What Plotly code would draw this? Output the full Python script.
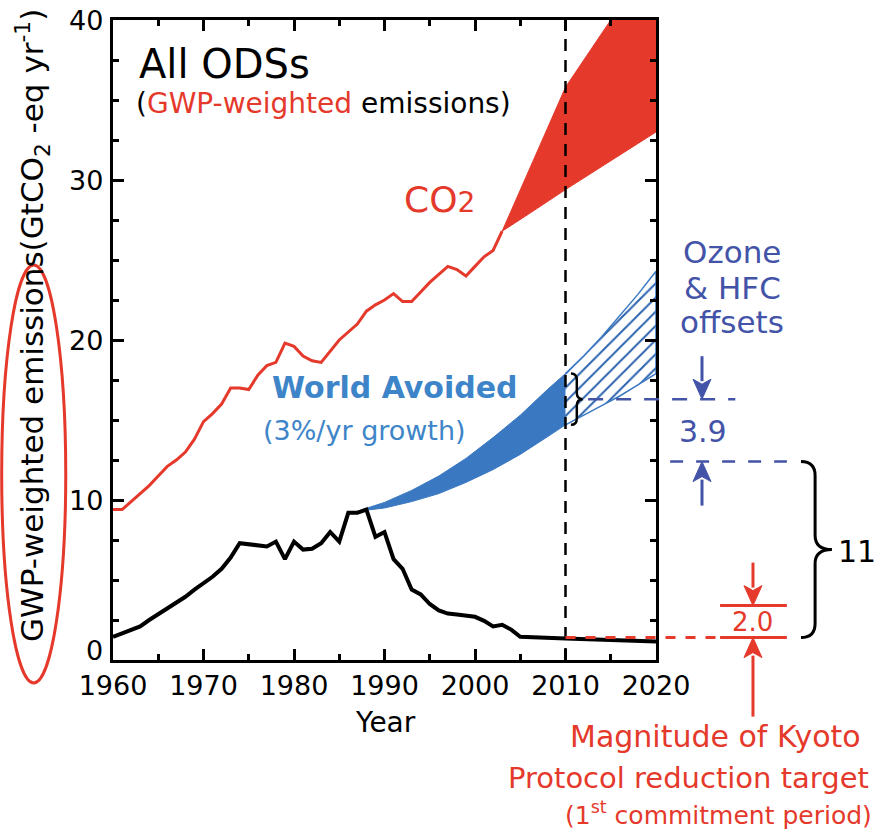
import plotly.graph_objects as go

# ---------------------------------------------------------------------------
# GWP-weighted emissions (GtCO2-eq per year)
# ---------------------------------------------------------------------------
ods_years = list(range(1960, 2011)) + [2015, 2020]
ods_values = [
    1.45, 1.65, 1.85, 2.1, 2.5, 2.85, 3.2, 3.6, 3.95, 4.4,      # 1960-1969
    4.8, 5.2, 5.7, 6.4, 7.3, 7.25, 7.2, 7.1, 7.4, 6.3,          # 1970-1979
    7.4, 6.9, 6.95, 7.3, 8.0, 7.4, 9.2, 9.2, 9.4, 7.7,          # 1980-1989
    8.0, 6.3, 5.7, 4.4, 4.1, 3.5, 3.1, 2.9, 2.85, 2.8,          # 1990-1999
    2.7, 2.45, 2.1, 2.2, 1.9, 1.45, 1.42, 1.4, 1.38, 1.36,      # 2000-2009
    1.35, 1.25, 1.15,                                           # 2010, 2015, 2020
]

co2_years = list(range(1960, 2004))
co2_values = [
    9.4, 9.4, 9.9, 10.4, 10.9, 11.5, 12.1, 12.5, 13.0, 13.8,    # 1960-1969
    14.9, 15.4, 16.0, 17.0, 17.0, 16.9, 17.8, 18.4, 18.6, 19.8, # 1970-1979
    19.6, 19.0, 18.7, 18.6, 19.3, 20.0, 20.5, 21.0, 21.8, 22.2, # 1980-1989
    22.5, 22.9, 22.4, 22.4, 23.0, 23.6, 24.1, 24.6, 24.4, 24.0, # 1990-1999
    24.6, 25.2, 25.6, 26.8,                                     # 2000-2003
]

# CO2 projection range
co2_proj_years = [2003, 2006, 2010, 2015, 2020]
co2_proj_high = [26.8, 30.7, 35.8, 40.0, 43.6]
co2_proj_low = [26.8, 27.9, 29.4, 31.2, 33.0]

# "World avoided" ODS emissions (3%/yr growth), before 2010
avoided_years = [1987, 1990, 1993, 1996, 1999, 2002, 2005, 2008, 2010]
avoided_high = [9.3, 9.85, 10.6, 11.5, 12.6, 13.9, 15.3, 16.9, 17.9]
avoided_low = [9.3, 9.5, 9.9, 10.4, 11.1, 11.9, 12.85, 13.95, 14.7]

# Ozone & HFC offsets after 2010
offset_years = [2010, 2012, 2014, 2016, 2018, 2020]
offset_high = [17.9, 19.0, 20.2, 21.5, 22.85, 24.3]
offset_low = [14.7, 15.3, 15.9, 16.5, 17.2, 17.9]

# Quantities annotated on the right-hand side
kyoto_base = 1.4          # projected ODS emissions level
kyoto_target = 2.0        # Kyoto Protocol reduction target
montreal_gap = 11.0       # avoided emissions relative to ODS level
hfc_offsets = 3.9         # ozone & HFC offsets

x_ticks = [1960, 1970, 1980, 1990, 2000, 2010, 2020]
y_ticks = [0, 10, 20, 30, 40]

X_RANGE = [1960, 2020]
Y_RANGE = [0, 40]

RED = "#e4392b"
BLUE_FILL = "#3a78c2"
BLUE_HATCH = "#2a62ad"
BLUE_TEXT = "#3d85c8"
INDIGO = "#4353a8"
FONT = "DejaVu Sans"

PLOT_W, PLOT_H = 543, 640   # plotting area in pixels


def xp(year):
    """Year -> paper fraction along the x axis."""
    return (year - X_RANGE[0]) / (X_RANGE[1] - X_RANGE[0])


def yp(value):
    """Emission value -> paper fraction along the y axis."""
    return (value - Y_RANGE[0]) / (Y_RANGE[1] - Y_RANGE[0])


fig = go.Figure()

# avoided emissions band (solid)
fig.add_trace(go.Scatter(
    x=avoided_years + avoided_years[::-1],
    y=avoided_high + avoided_low[::-1],
    fill="toself", fillcolor=BLUE_FILL, mode="lines",
    line=dict(color=BLUE_FILL, width=1), hoverinfo="skip",
))

# ozone & HFC offsets band (hatched)
fig.add_trace(go.Scatter(
    x=offset_years + offset_years[::-1],
    y=offset_high + offset_low[::-1],
    fill="toself", fillcolor="white", mode="lines",
    fillpattern=dict(shape="/", fgcolor=BLUE_HATCH, fgopacity=1,
                     bgcolor="white", size=10, solidity=0.2),
    line=dict(color=BLUE_FILL, width=1.5), hoverinfo="skip",
))

# CO2 projection band
fig.add_trace(go.Scatter(
    x=co2_proj_years + co2_proj_years[::-1],
    y=co2_proj_high + co2_proj_low[::-1],
    fill="toself", fillcolor=RED, mode="lines",
    line=dict(color=RED, width=1), hoverinfo="skip",
))

# CO2 emissions
fig.add_trace(go.Scatter(
    x=co2_years, y=co2_values, mode="lines",
    line=dict(color=RED, width=3), hoverinfo="skip",
))

# ODS emissions
fig.add_trace(go.Scatter(
    x=ods_years, y=ods_values, mode="lines",
    line=dict(color="black", width=4), hoverinfo="skip",
))

shapes = []

# 2010 marker
shapes.append(dict(type="line", xref="x", yref="y", x0=2010, x1=2010,
                   y0=Y_RANGE[0], y1=Y_RANGE[1],
                   line=dict(color="black", width=2.5, dash="12px,9px")))

# small brace across the avoided band at 2010
b_top, b_bot = avoided_high[-1], avoided_low[-1]
b_mid = (b_top + b_bot) / 2
shapes.append(dict(
    type="path", xref="x", yref="y",
    path=(f"M2010.6,{b_top} Q2011.25,{b_top} 2011.25,{b_top - 0.4} "
          f"L2011.25,{b_mid + 0.4} Q2011.25,{b_mid} 2011.9,{b_mid} "
          f"Q2011.25,{b_mid} 2011.25,{b_mid - 0.4} "
          f"L2011.25,{b_bot + 0.4} Q2011.25,{b_bot} 2010.6,{b_bot}"),
    line=dict(color="black", width=2.5)))

# offset levels (dashed blue)
lvl_low = kyoto_base + montreal_gap
lvl_high = lvl_low + hfc_offsets
shapes.append(dict(type="line", xref="paper", yref="paper",
                   x0=0.875, x1=1.146, y0=yp(lvl_high), y1=yp(lvl_high),
                   line=dict(color=INDIGO, width=2.5, dash="15px,13px")))
shapes.append(dict(type="line", xref="paper", yref="paper",
                   x0=1.026, x1=1.241, y0=yp(lvl_low), y1=yp(lvl_low),
                   line=dict(color=INDIGO, width=2.5, dash="13px,13px")))

# Kyoto level (dashed red) and target bars
shapes.append(dict(type="line", xref="paper", yref="paper",
                   x0=xp(2010), x1=1.118, y0=yp(kyoto_base), y1=yp(kyoto_base),
                   line=dict(color=RED, width=3, dash="10px,10px")))
for lvl in (kyoto_base, kyoto_base + kyoto_target):
    shapes.append(dict(type="line", xref="paper", yref="paper",
                       x0=1.118, x1=1.241, y0=yp(lvl), y1=yp(lvl),
                       line=dict(color=RED, width=3)))

# large brace spanning the avoided emissions
bt, bb = yp(lvl_low), yp(kyoto_base)
bm = (bt + bb) / 2
r = 0.022
xl, xv, xt = 1.267, 1.293, 1.324
shapes.append(dict(
    type="path", xref="paper", yref="paper",
    path=(f"M{xl},{bt} Q{xv},{bt} {xv},{bt - r} L{xv},{bm + r} "
          f"Q{xv},{bm} {xt},{bm} Q{xv},{bm} {xv},{bm - r} "
          f"L{xv},{bb + r} Q{xv},{bb} {xl},{bb}"),
    line=dict(color="black", width=3)))

# outline around the axis title (ellipse built from four cubic arcs)
ex0, ex1, ey0, ey1 = -0.205, -0.087, -0.036, 0.617
cx, cy = (ex0 + ex1) / 2, (ey0 + ey1) / 2
rx, ry = (ex1 - ex0) / 2, (ey1 - ey0) / 2
k = 0.5523
shapes.append(dict(
    type="path", xref="paper", yref="paper",
    path=(f"M{cx + rx},{cy} "
          f"C{cx + rx},{cy + k * ry} {cx + k * rx},{cy + ry} {cx},{cy + ry} "
          f"C{cx - k * rx},{cy + ry} {cx - rx},{cy + k * ry} {cx - rx},{cy} "
          f"C{cx - rx},{cy - k * ry} {cx - k * rx},{cy - ry} {cx},{cy - ry} "
          f"C{cx + k * rx},{cy - ry} {cx + rx},{cy - k * ry} {cx + rx},{cy} Z"),
    line=dict(color=RED, width=3)))


def arrow(x, y_tip, length_px, color, pointing_down):
    """Vertical arrow drawn as a shaft plus a filled triangular head."""
    s = 1 if pointing_down else -1
    head_len, half_w = 18 / PLOT_H, 9 / PLOT_W
    tail = y_tip + s * length_px / PLOT_H
    base = y_tip + s * head_len
    shapes.append(dict(type="line", xref="paper", yref="paper",
                       x0=x, x1=x, y0=tail, y1=base,
                       line=dict(color=color, width=3)))
    shapes.append(dict(
        type="path", xref="paper", yref="paper",
        path=(f"M{x},{y_tip} L{x - half_w},{base + s * 2 / PLOT_H} "
              f"L{x},{base - s * 3 / PLOT_H} "
              f"L{x + half_w},{base + s * 2 / PLOT_H} Z"),
        fillcolor=color, line=dict(color=color, width=1)))


arrow(1.0847, yp(lvl_high), 43, INDIGO, True)
arrow(1.0847, yp(lvl_low), 44, INDIGO, False)
arrow(1.1786, yp(kyoto_base + kyoto_target), 43, RED, True)
arrow(1.1786, yp(kyoto_base), 79, RED, False)

ann = []


def label(text, x, y, size, color="black", xanchor="center", bold=False, **kw):
    ann.append(dict(text=text, x=x, y=y, xref="paper", yref="paper",
                    xanchor=xanchor, yanchor="middle", showarrow=False,
                    font=dict(family=FONT, size=size, color=color,
                              weight="bold" if bold else "normal"), **kw))


label("All ODSs", 0.044, 0.931, 40, xanchor="left")
label(f"(<span style='color:{RED}'>GWP-weighted</span> emissions)",
      0.038, 0.869, 28, xanchor="left")
label("CO<span style='font-size:28px'>2</span>", 0.602, 0.719, 36, color=RED)
label("World Avoided", 0.519, 0.426, 30, color=BLUE_TEXT, bold=True)
label("(3%/yr growth)", 0.464, 0.359, 27, color=BLUE_TEXT)

label("Ozone", 1.140, 0.6375, 31, color=INDIGO)
label("&amp; HFC", 1.140, 0.5813, 31, color=INDIGO)
label("offsets", 1.140, 0.5281, 31, color=INDIGO)
label(f"{hfc_offsets:.1f}", 1.086, 0.3578, 30, color=INDIGO)
label(f"{montreal_gap:.0f}", 1.370, 0.1703, 30)
label(f"{kyoto_target:.1f}", 1.177, yp(kyoto_base + kyoto_target / 2), 26, color=RED)

label("Magnitude of Kyoto", 1.109, -0.1203, 30, color=RED)
label("Protocol reduction target", 1.059, -0.1844, 29, color=RED)
label("(1<sup>st</sup> commitment period)", 1.116, -0.2391, 25, color=RED)

label("Year", 0.501, -0.0969, 28)
label("GWP-weighted emissions(GtCO<sub>2</sub> -eq yr<sup>-1</sup>)",
      -0.1473, 0.522, 31, textangle=-90)

# y tick labels (the zero label sits a little above its tick)
for v in y_ticks:
    ann.append(dict(text=str(v), x=0, y=yp(v), xref="paper", yref="paper",
                    xanchor="right", yanchor="middle", xshift=-8,
                    yshift=10 if v == Y_RANGE[0] else 0, showarrow=False,
                    font=dict(family=FONT, size=27, color="black")))

axis_common = dict(
    showline=True, linewidth=3, linecolor="black", mirror="ticks",
    ticks="inside", ticklen=11, tickwidth=2.5, tickcolor="black",
    showgrid=False, zeroline=False,
    tickfont=dict(family=FONT, size=27, color="black"),
)

fig.update_layout(
    width=877, height=830,
    margin=dict(l=113, r=221, t=20, b=170),
    paper_bgcolor="white", plot_bgcolor="white",
    showlegend=False,
    xaxis=dict(range=X_RANGE, tickmode="array", tickvals=x_ticks,
               minor=dict(ticks="inside", ticklen=6, tickwidth=2.5,
                          tickmode="linear", tick0=1960, dtick=5,
                          tickcolor="black"),
               **axis_common),
    yaxis=dict(range=Y_RANGE, tickmode="array", tickvals=y_ticks,
               showticklabels=False,
               minor=dict(ticks="inside", ticklen=6, tickwidth=2.5,
                          tickmode="linear", tick0=0, dtick=2.5,
                          tickcolor="black"),
               **axis_common),
    shapes=shapes,
    annotations=ann,
)

fig.write_html("out.html")
